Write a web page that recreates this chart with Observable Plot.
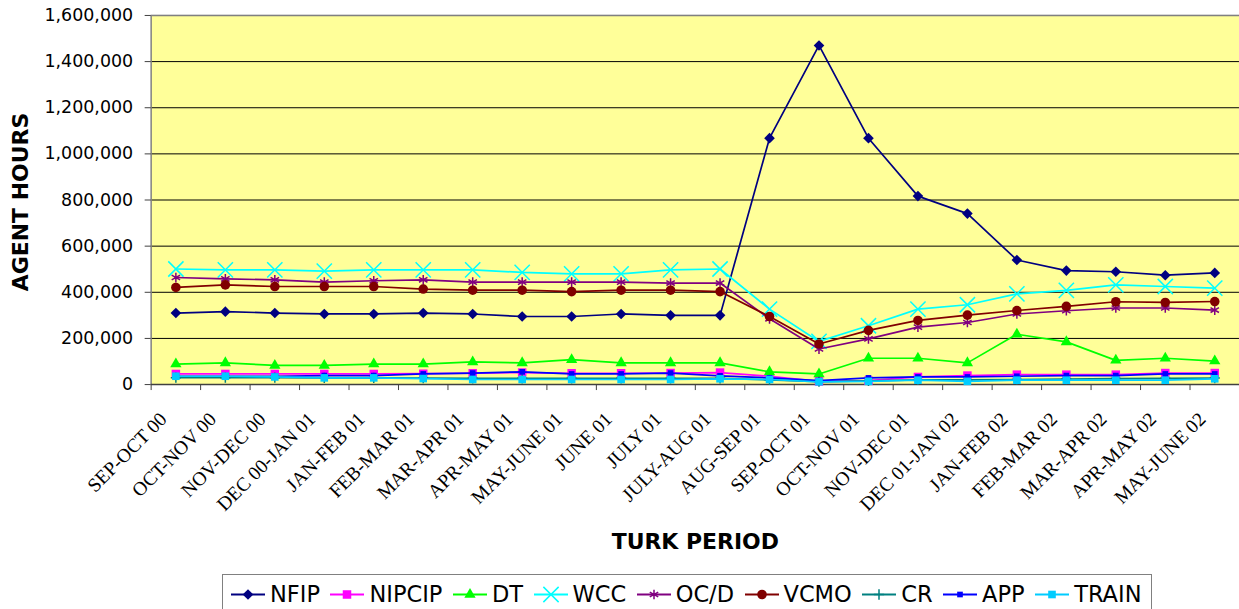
<!DOCTYPE html>
<html>
<head>
<meta charset="utf-8">
<script src="https://cdn.jsdelivr.net/npm/d3@7"></script>
<script src="https://cdn.jsdelivr.net/npm/@observablehq/plot@0.6"></script>
<style>
html, body { margin: 0; padding: 0; background: #fff; overflow: hidden; width: 1239px; height: 609px; }
#wrap { position: relative; width: 1239px; height: 609px; overflow: hidden; }
#chart svg { display: block; }
#legend {
  position: absolute; left: 222px; top: 574px; width: 930px; height: 44px;
  border: 1px solid #808080; background: #fff; box-sizing: border-box;
  display: flex; align-items: flex-start; padding: 8px 0 0 8px;
  font-family: "DejaVu Sans", sans-serif; font-size: 22.5px; line-height: 23px; color: #000;
}
.item { display: flex; align-items: center; margin-right: 10.5px; height: 23px; }
.item svg { margin-right: 5px; }
</style>
</head>
<body>
<div id="wrap">
  <div id="chart"></div>
  <div id="legend"></div>
</div>
<script>
const categories = ["SEP-OCT 00","OCT-NOV 00","NOV-DEC 00","DEC 00-JAN 01","JAN-FEB 01","FEB-MAR 01","MAR-APR 01","APR-MAY 01","MAY-JUNE 01","JUNE 01","JULY 01","JULY-AUG 01","AUG-SEP 01","SEP-OCT 01","OCT-NOV 01","NOV-DEC 01","DEC 01-JAN 02","JAN-FEB 02","FEB-MAR 02","MAR-APR 02","APR-MAY 02","MAY-JUNE 02"];

const NFIP   = [310000,316000,310000,306000,306000,310000,306000,295000,295000,306000,300000,300000,1068000,1470000,1068000,817000,741000,540000,494000,489000,474000,484000];
const NIPCIP = [46000,46000,46000,46000,46000,47000,49000,52000,49000,49000,50000,52000,36000,14000,17000,33000,39000,43000,43000,43000,50000,50000];
const DT     = [89000,94000,83000,83000,89000,89000,98000,94000,108000,94000,94000,94000,55000,46000,114000,114000,94000,218000,185000,105000,114000,102000];
const WCC    = [501000,497000,497000,492000,497000,497000,497000,486000,480000,480000,497000,501000,327000,187000,255000,327000,346000,393000,408000,432000,425000,418000];
const OCD    = [464000,458000,454000,444000,450000,454000,444000,444000,444000,444000,440000,440000,285000,154000,198000,249000,269000,306000,320000,332000,332000,323000];
const VCMO   = [421000,432000,425000,425000,425000,414000,409000,409000,403000,409000,409000,403000,295000,176000,235000,278000,301000,321000,339000,359000,356000,360000];
const CR     = [30000,30000,30000,29000,29000,28000,27000,27000,27000,27000,27000,27000,20000,13000,16000,20000,20000,22000,24000,26000,27000,28000];
const APP    = [36000,36000,36000,39000,39000,46000,50000,55000,46000,46000,50000,38000,29000,17000,29000,33000,33000,36000,39000,39000,46000,46000];
const TRAIN  = [36000,36000,33000,29000,29000,26000,22000,22000,22000,22000,22000,25000,22000,12000,14000,19000,14000,19000,19000,19000,19000,25000];

const yTicks = [0,200000,400000,600000,800000,1000000,1200000,1400000,1600000];

const seriesNames = ["NFIP","NIPCIP","DT","WCC","OC/D","VCMO","CR","APP","TRAIN"];
const seriesValues = [NFIP,NIPCIP,DT,WCC,OCD,VCMO,CR,APP,TRAIN];

const styles = {
  "NFIP":   {color:"#000080", symbol:"diamond2", r:4.8, filled:true},
  "NIPCIP": {color:"#FF00FF", symbol:"square",   r:4.8, filled:true},
  "DT":     {color:"#00FF00", symbol:"triangle", r:4.2, filled:true},
  "WCC":    {color:"#00FFFF", symbol:"times",    r:7.0, filled:false},
  "OC/D":   {color:"#800080", symbol:"asterisk", r:4.6, filled:false},
  "VCMO":   {color:"#800000", symbol:"circle",   r:4.8, filled:true},
  "CR":     {color:"#008080", symbol:"plus",     r:3.4, filled:false},
  "APP":    {color:"#0000FF", symbol:"square",   r:3.2, filled:true},
  "TRAIN":  {color:"#00CCFF", symbol:"square",   r:4.3, filled:true}
};

const seriesMarks = [];
seriesNames.forEach((name, s) => {
  const st = styles[name];
  const data = seriesValues[s].map((v, i) => ({i, v}));
  seriesMarks.push(Plot.line(data, {x: "i", y: "v", stroke: st.color, strokeWidth: 1.7}));
  seriesMarks.push(Plot.dot(data, st.filled
    ? {x: "i", y: "v", symbol: st.symbol, r: st.r, fill: st.color, stroke: "none"}
    : {x: "i", y: "v", symbol: st.symbol, r: st.r, fill: "none", stroke: st.color, strokeWidth: 1.5}));
});

const boundaries = d3.range(categories.length + 1).map(k => k - 0.5);

const chart = Plot.plot({
  width: 1242,
  height: 572,
  marginLeft: 151,
  marginRight: 0,
  marginTop: 15,
  marginBottom: 187,
  style: {background: "transparent", fontFamily: "DejaVu Sans"},
  x: {type: "linear", domain: [-0.5, categories.length - 0.5], axis: null},
  y: {domain: [0, 1600000], axis: null},
  marks: [
    Plot.frame({fill: "#FFFF99"}),
    Plot.gridY(yTicks.slice(1), {stroke: "#000", strokeOpacity: 1, strokeWidth: 1}),
    Plot.ruleY([1600000], {stroke: "#808080", strokeWidth: 1.5}),
    Plot.ruleX([-0.5], {stroke: "#808080", strokeWidth: 1.5}),
    Plot.ruleY([0], {stroke: "#404040", strokeWidth: 1.5}),
    Plot.axisY(yTicks, {tickSize: 6, tickPadding: 12, tickFormat: d3.format(","), fontSize: 17.5, fontFamily: "DejaVu Sans", stroke: "#404040", label: null}),
    Plot.axisX(boundaries, {tickSize: 6, tickFormat: () => "", stroke: "#404040", label: null}),
    Plot.text(categories, {x: (d, i) => i, frameAnchor: "bottom", text: d => d, rotate: -45, textAnchor: "end", lineAnchor: "bottom", dx: -8, dy: 36, fontSize: 19.5, fontFamily: "Liberation Serif", fill: "#000"}),
    Plot.text(["AGENT HOURS"], {frameAnchor: "left", text: d => d, rotate: -90, textAnchor: "middle", dx: -130, dy: 2, fontSize: 22, fontWeight: "bold", fontFamily: "DejaVu Sans", fill: "#000"}),
    Plot.text(["TURK PERIOD"], {frameAnchor: "bottom", text: d => d, dy: 165, fontSize: 22, fontWeight: "bold", fontFamily: "DejaVu Sans", fill: "#000"}),
    ...seriesMarks
  ]
});
document.getElementById("chart").appendChild(chart);

const symMap = {
  diamond2: d3.symbolDiamond2, square: d3.symbolSquare, triangle: d3.symbolTriangle,
  times: d3.symbolX, asterisk: d3.symbolAsterisk, circle: d3.symbolCircle, plus: d3.symbolPlus
};
const legend = d3.select("#legend");
seriesNames.forEach(name => {
  const st = styles[name];
  const item = legend.append("div").attr("class", "item");
  const svg = item.append("svg").attr("width", 34).attr("height", 23);
  svg.append("line").attr("x1", 0).attr("x2", 34).attr("y1", 11.5).attr("y2", 11.5)
    .attr("stroke", st.color).attr("stroke-width", 2);
  const path = svg.append("path")
    .attr("transform", "translate(17,11.5)")
    .attr("d", d3.symbol(symMap[st.symbol], Math.PI * st.r * st.r)());
  if (st.filled) path.attr("fill", st.color);
  else path.attr("fill", "none").attr("stroke", st.color).attr("stroke-width", 1.5);
  item.append("span").text(name);
});
</script>
</body>
</html>
